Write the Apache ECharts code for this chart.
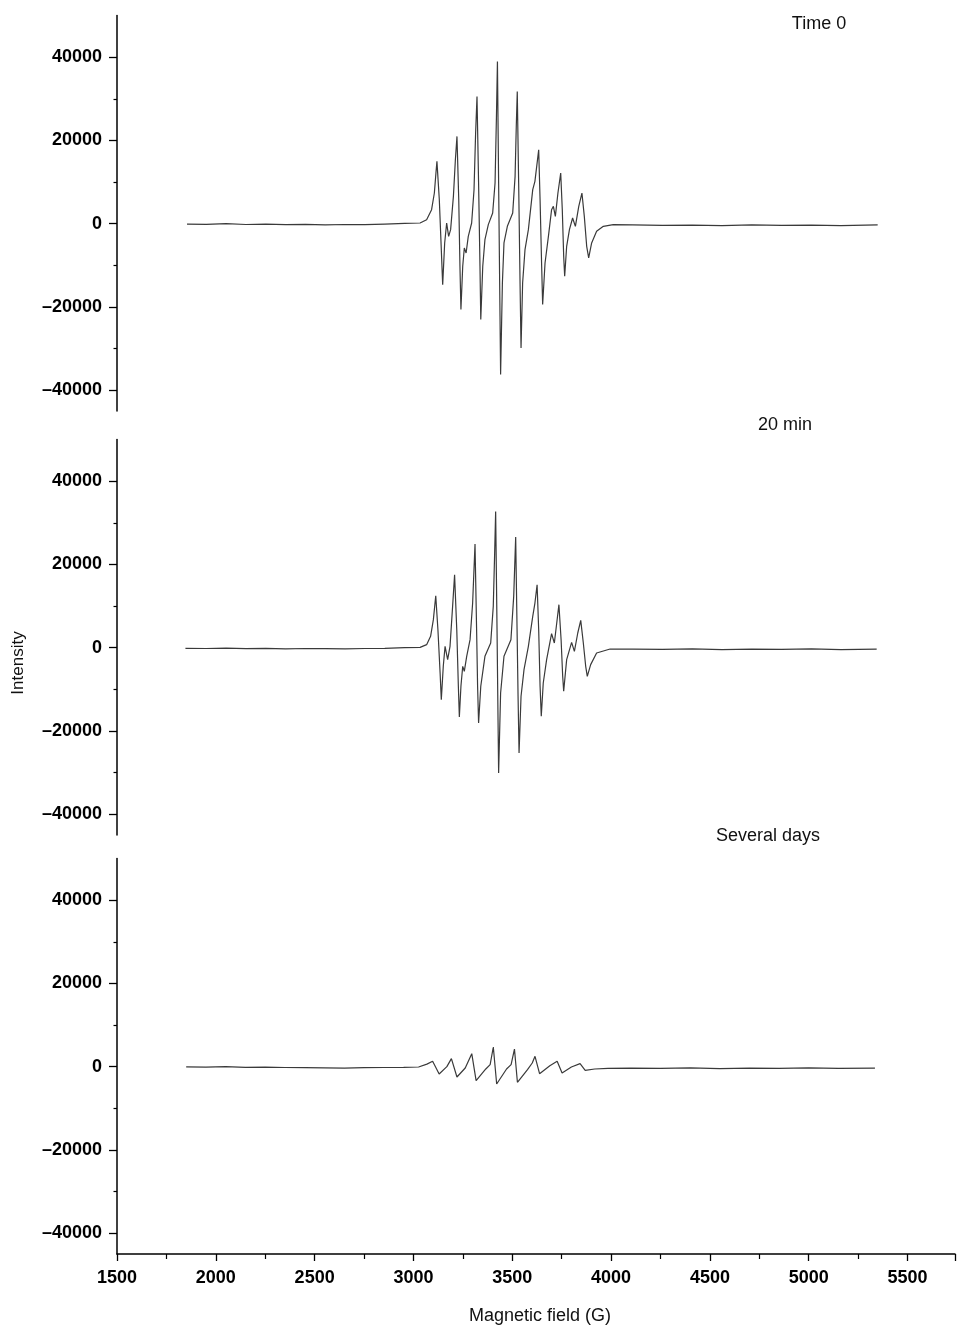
<!DOCTYPE html>
<html><head><meta charset="utf-8">
<script src="https://cdn.jsdelivr.net/npm/echarts@6/dist/echarts.min.js"></script>
<style>html,body{margin:0;padding:0;background:#fff}#chart{width:958px;height:1329px}</style>
</head><body><div id="chart"></div>
<script>
// ---- Data ----
const panelLabels = ['Time 0', '20 min', 'Several days'];
const xTickLabels = [1500, 2000, 2500, 3000, 3500, 4000, 4500, 5000, 5500];
const yTickLabels = [-40000, -20000, 0, 20000, 40000];

const fieldT0 = [1853, 1950, 2050, 2150, 2250, 2350, 2450, 2550, 2650, 2750, 2850, 2950,
  3028, 3061, 3086, 3100, 3108, 3113, 3125, 3135, 3142, 3152, 3162, 3172, 3182, 3196, 3206, 3214,
  3223, 3229, 3234, 3243, 3251, 3260, 3271, 3288, 3300, 3308, 3315, 3323, 3330, 3334, 3344, 3355,
  3372, 3394, 3406, 3413, 3418, 3424, 3431, 3434, 3443, 3451, 3468, 3495, 3507, 3513, 3518, 3525,
  3532, 3537, 3545, 3557, 3574, 3596, 3607, 3616, 3626, 3633, 3641, 3646, 3658, 3675, 3691, 3700,
  3710, 3723, 3737, 3745, 3752, 3757, 3767, 3781, 3797, 3811, 3828, 3844, 3856, 3868, 3878, 3893,
  3918, 3952, 4002, 4100, 4250, 4400, 4550, 4700, 4850, 5000, 5150, 5335];
const intT0 = [-100, -150, 0, -200, -100, -250, -150, -300, -200, -250, -100, 50,
  160, 960, 3360, 7360, 12160, 14960, 5760, -6240, -14640, -4640, 160, -3040, -1440, 6560, 15360, 20960,
  5760, -10240, -20640, -10240, -5840, -7040, -3040, 160, 8160, 21760, 30560, 9760, -10240, -23040, -10240, -3840,
  -240, 2560, 9760, 25760, 38960, 9760, -22240, -36240, -14240, -4640, -640, 2560, 11360, 23360, 31760, 9760,
  -14240, -29840, -14240, -6240, -1440, 8160, 10160, 13760, 17760, 5760, -10240, -19440, -9440, -3040, 3360, 4160,
  1760, 7360, 12160, 3360, -7840, -12640, -5440, -1440, 1360, -640, 4160, 7360, 1760, -5440, -8240, -4640,
  -1840, -640, -240, -300, -400, -350, -450, -300, -400, -350, -450, -300];

const field20 = [1845, 1950, 2050, 2150, 2250, 2350, 2450, 2550, 2650, 2750, 2850, 2950,
  3028, 3061, 3081, 3095, 3107, 3118, 3129, 3135, 3145, 3154, 3167, 3179, 3192, 3202, 3213, 3221,
  3226, 3234, 3243, 3251, 3263, 3280, 3293, 3305, 3313, 3318, 3323, 3334, 3355, 3384, 3397, 3404,
  3409, 3416, 3421, 3424, 3434, 3451, 3486, 3500, 3510, 3517, 3522, 3527, 3537, 3552, 3574, 3596,
  3607, 3618, 3626, 3633, 3639, 3649, 3666, 3691, 3705, 3717, 3728, 3739, 3747, 3752, 3767, 3792,
  3806, 3823, 3838, 3851, 3863, 3871, 3888, 3918, 3986, 4100, 4250, 4400, 4550, 4700, 4850, 5000, 5150, 5330];
const int20 = [-150, -200, -100, -250, -150, -300, -200, -250, -300, -200, -150, 0,
  80, 720, 2720, 6720, 12480, 4320, -6080, -12480, -4480, 320, -2880, 320, 9920, 17520, 4320, -9280,
  -16640, -9280, -4480, -5680, -2080, 1920, 10720, 24880, 4320, -9280, -18080, -9280, -2080, 1120, 9920, 22720,
  32720, 4320, -17280, -30080, -10880, -2080, 1920, 12320, 26560, 4320, -11680, -25280, -11680, -5280, 320, 7520,
  10720, 15120, 4320, -9280, -16480, -8480, -2880, 3360, 1120, 5920, 10320, 1920, -6880, -10480, -2880, 1280,
  -880, 3520, 6560, 1120, -4480, -6880, -4080, -1280, -320, -350, -400, -300, -450, -350, -400, -300, -450, -350];

const fieldDays = [1850, 1950, 2050, 2150, 2250, 2350, 2450, 2550, 2650, 2750, 2850, 2950,
  3026, 3068, 3097, 3130, 3169, 3192, 3220, 3262, 3295, 3317, 3366, 3388, 3404, 3421, 3471, 3494,
  3511, 3526, 3577, 3601, 3615, 3638, 3690, 3727, 3752, 3799, 3843, 3869, 3917, 3984,
  4100, 4250, 4400, 4550, 4700, 4850, 5000, 5150, 5335];
const intDays = [-50, -100, 0, -150, -100, -200, -250, -300, -350, -250, -200, -150,
  -80, 600, 1280, -1760, 0, 1920, -2480, -320, 3120, -3360, -560, 480, 4720, -4160, -560, 480,
  4240, -3760, -720, 880, 2480, -1680, 240, 1280, -1520, -80, 720, -880, -560, -400,
  -350, -400, -300, -450, -350, -400, -300, -400, -350];

// ---- Layout ----
const FONT = '"Liberation Sans", Arial, Helvetica, sans-serif';
const LEFT = 117, RIGHT = 0;
const XMIN = 1500, XMAX = 5740;
const tops = [15.5, 439.5, 858.5];
const H = 395.5, YMIN = -45000, YMAX = 50000;
const pxPer = H / (YMAX - YMIN);

const zip = (a, b) => a.map((v, i) => [v, b[i]]);
const seriesData = [zip(fieldT0, intT0), zip(field20, int20), zip(fieldDays, intDays)];

const grids = [], xAxes = [], yAxes = [], series = [];
tops.forEach(t => grids.push({ left: LEFT, right: RIGHT, top: t, height: H }));
tops.forEach(t => grids.push({ left: LEFT, right: RIGHT, top: t + (YMAX - 40000) * pxPer, height: 80000 * pxPer }));

for (let i = 0; i < 3; i++) {
  xAxes.push({
    type: 'value', gridIndex: i, min: XMIN, max: XMAX, interval: 500,
    show: i === 2,
    axisLine: { show: true, onZero: false, lineStyle: { color: '#000', width: 1.5 } },
    axisTick: { show: true, length: 7, lineStyle: { color: '#000', width: 1.3 } },
    minorTick: { show: true, splitNumber: 2, length: 5, lineStyle: { color: '#000', width: 1.2 } },
    axisLabel: {
      color: '#000', fontFamily: FONT, fontWeight: 'bold', fontSize: 18, margin: 15,
      formatter: v => (xTickLabels.indexOf(v) >= 0 ? String(v) : '')
    },
    splitLine: { show: false }, minorSplitLine: { show: false }
  });
  yAxes.push({
    type: 'value', gridIndex: i, min: YMIN, max: YMAX,
    axisLine: { show: true, lineStyle: { color: '#000', width: 1.5 } },
    axisTick: { show: false }, axisLabel: { show: false },
    splitLine: { show: false }
  });
}
for (let i = 0; i < 3; i++) {
  xAxes.push({ type: 'value', gridIndex: 3 + i, min: XMIN, max: XMAX, show: false });
  yAxes.push({
    type: 'value', gridIndex: 3 + i, min: -40000, max: 40000, interval: 20000,
    axisLine: { show: false },
    axisTick: { show: true, length: 8, lineStyle: { color: '#000', width: 1.3 } },
    minorTick: { show: true, splitNumber: 2, length: 3.5, lineStyle: { color: '#000', width: 1.2 } },
    axisLabel: {
      color: '#000', fontFamily: FONT, fontWeight: 'bold', fontSize: 18, margin: 15,
      formatter: v => (yTickLabels.indexOf(v) >= 0 ? String(v).replace('-', '\u2013') : '')
    },
    splitLine: { show: false }
  });
}
for (let i = 0; i < 3; i++) {
  series.push({
    type: 'line', xAxisIndex: i, yAxisIndex: i, data: seriesData[i],
    showSymbol: false, symbol: 'none', smooth: false,
    lineStyle: { color: '#3a3a3a', width: 1.2 }
  });
}

const labelPos = [[819, 24], [785, 425], [768, 836]];
const graphics = panelLabels.map((s, i) => ({
  type: 'text', x: labelPos[i][0], y: labelPos[i][1],
  style: { text: s, font: '18px ' + FONT, fill: '#111', textAlign: 'center', textVerticalAlign: 'middle' }
}));
graphics.push({
  type: 'text', x: 18, y: 663, rotation: Math.PI / 2,
  style: { text: 'Intensity', font: '17px ' + FONT, fill: '#111', textAlign: 'center', textVerticalAlign: 'middle' }
});
graphics.push({
  type: 'text', x: 540, y: 1316,
  style: { text: 'Magnetic field (G)', font: '18px ' + FONT, fill: '#111', textAlign: 'center', textVerticalAlign: 'middle' }
});

const chart = echarts.init(document.getElementById('chart'), null, { renderer: 'canvas' });
chart.setOption({
  animation: false,
  backgroundColor: '#fff',
  grid: grids, xAxis: xAxes, yAxis: yAxes, series: series,
  graphic: graphics
});
</script>
</body></html>
